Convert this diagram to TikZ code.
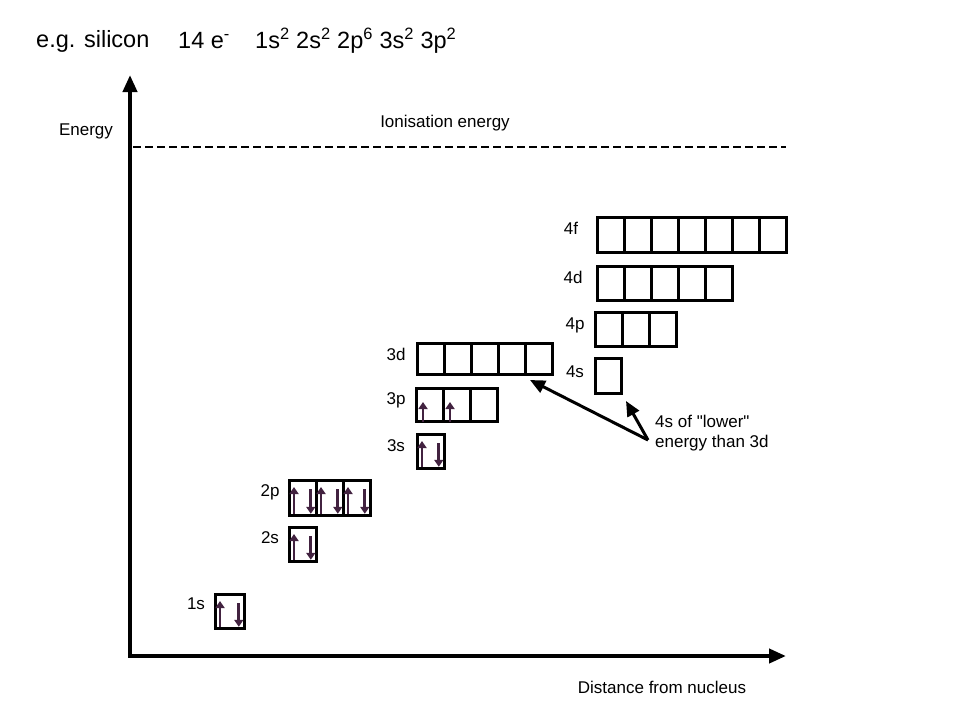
\documentclass[tikz,border=0pt]{standalone}
\usepackage{fontspec}
\setmainfont{Liberation Sans}
\newfontfamily\plainfont{Liberation Sans}
\usetikzlibrary{arrows.meta,calc}
\definecolor{spincol}{RGB}{66,34,64}
% name, x, ytop, count, width, height
\newcommand\orbrow[6]{%
  \foreach \i in {1,...,#4} {%
    \node[orbbox, minimum width=#5pt, minimum height=#6pt] (#1-\i) at ({#2+(\i-1)*#5}, #3) {};
  }%
}
\newcommand\spinpair[1]{%
  \draw[spinarr] ($(#1.south west)+(6,-3)$) -- ($(#1.north west)+(6,8)$);
  \draw[spinarr] ($(#1.north east)+(-7,10)$) -- ($(#1.south east)+(-7,-3)$);
}
\newcommand\spinup[1]{%
  \draw[spinarr] ($(#1.south west)+(8,-1)$) -- ($(#1.north west)+(8,15)$);
}
\begin{document}
\begin{tikzpicture}[x=1pt,y=-1pt,
  lbl/.style={font=\fontsize{17}{20}\selectfont, inner sep=0pt},
  ttl/.style={font=\fontsize{23.5}{27}\selectfont, inner sep=0pt, anchor=west},
  orbbox/.style={draw, line width=2.8pt, inner sep=0pt, anchor=north west},
  spinarr/.style={draw=spincol, line width=2.8pt, -{Triangle[length=7pt,width=9pt]}},
  axisline/.style={line width=4pt, {Triangle[length=17pt,width=14pt]}-{Triangle[length=17pt,width=14pt]}},
  notearr/.style={line width=3pt, -{Triangle[length=15pt,width=13pt]}}]
\useasboundingbox (0,0) rectangle (960,720);

% title
\node[ttl] (t1) at (36,41) {e.g. silicon};
\node[ttl] (t2) at (178,41) {14 e\textsuperscript{-}};
\node[ttl] (t3) at (255,41) {1s\textsuperscript{2} 2s\textsuperscript{2} 2p\textsuperscript{6} 3s\textsuperscript{2} 3p\textsuperscript{2}};

% axes
\coordinate (ytop) at (130,75);
\coordinate (orig) at (130,656);
\coordinate (xend) at (786,656);
\draw[axisline] (ytop) -- (orig) -- (xend);

% ionisation line
\coordinate (ionl) at (133,147);
\coordinate (ionr) at (786,147);
\draw[line width=1.3pt, dash pattern=on 8pt off 4pt] (ionl) -- (ionr);

\node[lbl] (energy) at (86,131) {Energy};
\node[lbl] (ion) at (445,123) {Ionisation energy};
\node[lbl] (dist) at (662,687) {Distance from nucleus};

% orbitals
\orbrow{1s}{214}{593}{1}{29}{34}
\orbrow{2s}{288}{526}{1}{27}{34}
\orbrow{2p}{288}{479}{3}{27}{35}
\orbrow{3s}{416}{433}{1}{27}{34}
\orbrow{3p}{415}{387}{3}{27}{33}
\orbrow{3d}{416}{342}{5}{27}{31}
\orbrow{4s}{594}{357}{1}{26}{35}
\orbrow{4p}{594}{311}{3}{27}{34}
\orbrow{4d}{596}{265}{5}{27}{34}
\orbrow{4f}{596}{216}{7}{27}{35}

% orbital labels
\node[lbl] (l1s) at (196,604) {1s};
\node[lbl] (l2s) at (270,538) {2s};
\node[lbl] (l2p) at (270,492) {2p};
\node[lbl] (l3s) at (396,446) {3s};
\node[lbl] (l3p) at (396,400) {3p};
\node[lbl] (l3d) at (396,354) {3d};
\node[lbl] (l4s) at (575,372) {4s};
\node[lbl] (l4p) at (575,325) {4p};
\node[lbl] (l4d) at (573,277) {4d};
\node[lbl] (l4f) at (571,228) {4f};

% electrons
\spinpair{1s-1}
\spinpair{2s-1}
\spinpair{2p-1}
\spinpair{2p-2}
\spinpair{2p-3}
\spinpair{3s-1}
\spinup{3p-1}
\spinup{3p-2}

% note
\node[lbl, anchor=west, align=left, font=\plainfont\fontsize{17}{20}\selectfont] (note) at (655,433) {4s of "lower"\\energy than 3d};
\coordinate (fork) at ($(note.west)+(-7,7)$);
\coordinate (tip3d) at (530,380);
\coordinate (tip4s) at (626,401);
\draw[notearr] (fork) -- (tip3d);
\draw[notearr] (fork) -- (tip4s);
\end{tikzpicture}
\end{document}
